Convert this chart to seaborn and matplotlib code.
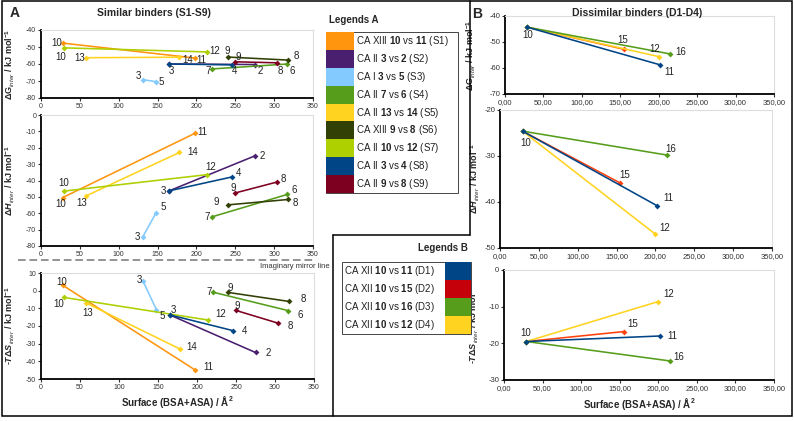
import matplotlib
matplotlib.use('Agg')
import matplotlib.pyplot as plt
import seaborn as sns
import pandas as pd
from matplotlib.lines import Line2D
from matplotlib.patches import Rectangle
from matplotlib.ticker import FuncFormatter, MultipleLocator

# panel A - similar binders
a_pairs = ['S1', 'S2', 'S3', 'S4', 'S5', 'S6', 'S7', 'S8', 'S9']
a_iso = ['CA XIII', 'CA II', 'CA I', 'CA II', 'CA II', 'CA XIII', 'CA II', 'CA II', 'CA II']
a_first = ['10', '3', '3', '7', '13', '9', '10', '3', '9']
a_second = ['11', '2', '5', '6', '14', '8', '12', '4', '8']
a_surf_first = [28, 165, 131, 220, 58, 240, 29, 165, 250]
a_surf_second = [198, 275, 148, 317, 178, 318, 214, 246, 304]
a_dg_first = [-47.7, -60.0, -69.2, -62.9, -56.3, -55.9, -50.5, -60.0, -58.7]
a_dg_second = [-56.5, -60.3, -70.4, -60.0, -56.0, -57.7, -52.9, -60.5, -59.3]
a_dh_first = [-50.4, -46.3, -74.4, -62.2, -49.4, -54.9, -46.5, -46.3, -47.6]
a_dh_second = [-11.2, -25.0, -59.8, -48.5, -22.9, -51.6, -36.4, -37.8, -40.9]
a_tds_first = [3.0, -13.7, 5.2, -0.8, -7.0, -1.0, -3.8, -13.7, -11.2]
a_tds_second = [-45.0, -35.0, -10.8, -11.3, -33.0, -6.1, -16.6, -22.6, -18.4]
a_colors = ['#ff950e', '#4b1f6f', '#83caff', '#579d1c', '#ffd320',
            '#314004', '#aecf00', '#004586', '#7e0021']

# panel B - dissimilar binders
b_pairs = ['D1', 'D2', 'D3', 'D4']
b_iso = ['CA XII', 'CA XII', 'CA XII', 'CA XII']
b_first = ['10', '10', '10', '10']
b_second = ['11', '15', '16', '12']
b_surf_first = [29, 29, 29, 29]
b_surf_second = [202, 155, 215, 200]
b_dg_first = [-44.3, -44.3, -44.3, -44.3]
b_dg_second = [-58.8, -52.8, -54.6, -55.6]
b_dh_first = [-24.6, -24.6, -24.6, -24.6]
b_dh_second = [-40.8, -35.9, -29.8, -47.0]
b_tds_first = [-19.5, -19.5, -19.5, -19.5]
b_tds_second = [-18.0, -16.8, -24.8, -8.6]
b_colors = ['#004586', '#ff420e', '#579d1c', '#ffd320']
b_swatch = ['#004586', '#c5000b', '#579d1c', '#ffd320']

# label offsets in pixels (dx, dy downward), None = no label
off_a = {
    'dG': [((-6, 0), (6, 2)), (None, (6, 6)), ((-4.5, -3.5), (5, 0)), ((-4, 2), (4.5, 7)),
           ((-6.5, 0), (8, 2.5)), ((0, -6), (8, -3.7)), ((-2.5, 9.5), (7.5, -1)),
           ((2.5, 7), (2, 6)), ((2.5, -4.5), (3, 8))],
    'dH': [((-2, 6), (7, -1.5)), (None, (7.5, 0)), ((-5.5, 0), (7, -5.5)), ((-5, 0), (7, -4)),
           ((-4, 7.5), (13, 0)), ((-11, -3), (7.5, 4)), ((0, -8), (3, -8)),
           ((-6, 0), (6, -3.5)), ((-2.5, -5), (6, -3))],
    'tds': [((-1, -3), (13, -3)), (None, (13, 0)), ((-4, -1), (6, 6)), ((-3, 0), (11.5, 4)),
            ((1.5, 10), (12, -2)), ((2.5, -4.5), (14, -2)), ((-4.5, 6.5), (13, -6)),
            ((4, -4.5), (12, 0)), ((1, -4.5), (12, 2.5))],
}
off_b = {
    'dG': [((0, 8), (9, 7)), (None, (-1, -9)), (None, (11, -1.5)), (None, (-4, -7.5))],
    'dH': [((3, 12), (11, -8)), (None, (4, -8)), (None, (3.5, -6)), (None, (9, -6))],
    'tds': [((-1, -9), (12, 0)), (None, (9, -7.5)), (None, (9, -4)), (None, (10.5, -7.5))],
}


def long_frame(pairs, first, second, sf, ss, g1, g2, h1, h2, t1, t2):
    rows = []
    for i, p in enumerate(pairs):
        rows.append(dict(pair=p, idx=i, end=0, cmpd=first[i], surface=sf[i], dG=g1[i], dH=h1[i], tds=t1[i]))
        rows.append(dict(pair=p, idx=i, end=1, cmpd=second[i], surface=ss[i], dG=g2[i], dH=h2[i], tds=t2[i]))
    return pd.DataFrame(rows)


df_a = long_frame(a_pairs, a_first, a_second, a_surf_first, a_surf_second,
                  a_dg_first, a_dg_second, a_dh_first, a_dh_second, a_tds_first, a_tds_second)
df_b = long_frame(b_pairs, b_first, b_second, b_surf_first, b_surf_second,
                  b_dg_first, b_dg_second, b_dh_first, b_dh_second, b_tds_first, b_tds_second)

sns.set_theme(style='white')
plt.rcParams['font.family'] = ['Liberation Sans', 'DejaVu Sans']
plt.rcParams['mathtext.fontset'] = 'custom'
plt.rcParams['mathtext.rm'] = 'Liberation Sans'
plt.rcParams['mathtext.it'] = 'Liberation Sans:italic'
plt.rcParams['mathtext.bf'] = 'Liberation Sans:bold'
plt.rcParams['mathtext.bfit'] = 'Liberation Sans:italic:bold'
plt.rcParams['axes.unicode_minus'] = False

W, H = 794, 421
fig = plt.figure(figsize=(W / 100, H / 100), dpi=100)


def add_ax(l, t, r, b):
    return fig.add_axes([l / W, 1 - b / H, (r - l) / W, (b - t) / H])


def draw(ax, df, col, pairs, colors, order, offsets, ylim, ylabel, ylab_x, comma=False):
    pal = dict(zip(pairs, colors))
    sns.lineplot(data=df, x='surface', y=col, hue='pair', hue_order=order, palette=pal,
                 estimator=None, sort=False, marker='D', markersize=3, markeredgewidth=0,
                 linewidth=1.15, legend=False, ax=ax)
    for _, r in df.iterrows():
        o = offsets[col][r['idx']][r['end']]
        if o is None:
            continue
        ax.annotate(r['cmpd'], (r['surface'], r[col]), xytext=(o[0], -o[1]),
                    textcoords='offset pixels', ha='center', va='center', fontsize=7, color='#222222')
    ax.set_xlim(0, 350)
    ax.set_ylim(*ylim)
    ax.xaxis.set_major_locator(MultipleLocator(50))
    ax.yaxis.set_major_locator(MultipleLocator(10))
    if comma:
        ax.xaxis.set_major_formatter(FuncFormatter(lambda v, p: f'{v:.2f}'.replace('.', ',')))
    for s in ['left', 'bottom']:
        ax.spines[s].set_color('black')
        ax.spines[s].set_linewidth(1.3)
    for s in ['top', 'right']:
        ax.spines[s].set_color('#dddddd')
        ax.spines[s].set_linewidth(0.8)
    ax.tick_params(labelsize=5.5 if comma else 5, length=2.5, width=0.8, pad=1,
                   left=True, bottom=True, colors='#333333')
    ax.set_xlabel('')
    ax.set_ylabel(ylabel, fontsize=6.5, fontweight='bold')
    ax.yaxis.set_label_coords(ylab_x, 0.5)


lab_g = 'ΔG$_{\\mathit{inter}}$ / kJ mol$^{\\mathbf{-1}}$'
lab_h = 'Δ$\\mathbfit{H}_{\\mathit{inter}}$ / kJ mol$^{\\mathbf{-1}}$'
lab_s = '-$\\mathbfit{T}$Δ$\\mathbfit{S}_{\\mathit{inter}}$ / kJ mol$^{\\mathbf{-1}}$'
xlab = 'Surface (BSA+ASA) / Å$^{\\mathbf{2}}$'

a_order = a_pairs
b_order = ['D2', 'D4', 'D3', 'D1']

ax1 = add_ax(41, 30, 313, 98)
draw(ax1, df_a, 'dG', a_pairs, a_colors, a_order, off_a, (-80, -40), lab_g, -0.088)
ax2 = add_ax(41, 115, 313, 246)
draw(ax2, df_a, 'dH', a_pairs, a_colors, a_order, off_a, (-80, 0), lab_h, -0.088)
ax3 = add_ax(41, 273, 314, 379)
draw(ax3, df_a, 'tds', a_pairs, a_colors, a_order, off_a, (-50, 10), lab_s, -0.088)
ax3.set_xlabel(xlab, fontsize=7, fontweight='bold', labelpad=2)

bx1 = add_ax(505, 16, 774, 94)
draw(bx1, df_b, 'dG', b_pairs, b_colors, b_order, off_b, (-70, -40), lab_g, -0.10, comma=True)
bx2 = add_ax(500, 110, 772, 248)
draw(bx2, df_b, 'dH', b_pairs, b_colors, b_order, off_b, (-50, -20), lab_h, -0.067, comma=True)
bx3 = add_ax(504, 270, 774, 380)
draw(bx3, df_b, 'tds', b_pairs, b_colors, b_order, off_b, (-30, 0), lab_s, -0.085, comma=True)
bx3.set_xlabel(xlab, fontsize=7, fontweight='bold', labelpad=3)

# titles
fig.text(10 / W, 1 - 13 / H, 'A', fontsize=10, fontweight='bold', ha='left', va='center')
fig.text(154 / W, 1 - 13 / H, 'Similar binders (S1-S9)', fontsize=7.5, fontweight='bold', ha='center', va='center')
fig.text(472 / W, 1 - 14 / H, 'B', fontsize=10, fontweight='bold', ha='left', va='center')
fig.text(637 / W, 1 - 13 / H, 'Dissimilar binders (D1-D4)', fontsize=7.5, fontweight='bold', ha='center', va='center')

# mirror line
fig.add_artist(Line2D([18 / W, 313 / W], [1 - 260 / H, 1 - 260 / H], color='#777777',
                      lw=1.1, ls=(0, (5, 2.5)), transform=fig.transFigure))
fig.text(330 / W, 1 - 267 / H, 'Imaginary mirror line', fontsize=5.5, ha='right', va='center', color='#333333')

# legend A
fig.text(329 / W, 1 - 20 / H, 'Legends A', fontsize=7, fontweight='bold', ha='left', va='center')
top, rh = 32, (193 - 32) / 9
fig.add_artist(Rectangle((326 / W, 1 - 193 / H), 132 / W, 161 / H, fill=False, ec='#444444', lw=0.7,
                         transform=fig.transFigure))
for i, p in enumerate(a_pairs):
    y0 = top + i * rh
    fig.add_artist(Rectangle((326 / W, 1 - (y0 + rh) / H), 28 / W, rh / H, fc=a_colors[i], ec='none',
                             transform=fig.transFigure))
    fig.text(356 / W, 1 - (y0 + rh / 2) / H,
             f'{a_iso[i]} $\\mathbf{{{a_first[i]}}}$ vs $\\mathbf{{{a_second[i]}}}$ ({p})',
             fontsize=7, ha='left', va='center', color='#222222')

# legend B
fig.text(468 / W, 1 - 248 / H, 'Legends B', fontsize=7, fontweight='bold', ha='right', va='center')
top, rh = 262, (334 - 262) / 4
fig.add_artist(Rectangle((342 / W, 1 - 334 / H), 129 / W, 72 / H, fill=False, ec='#444444', lw=0.7,
                         transform=fig.transFigure))
for i, p in enumerate(b_pairs):
    y0 = top + i * rh
    fig.add_artist(Rectangle((445 / W, 1 - (y0 + rh) / H), 26 / W, rh / H, fc=b_swatch[i], ec='none',
                             transform=fig.transFigure))
    fig.text(344 / W, 1 - (y0 + rh / 2) / H,
             f'{b_iso[i]} $\\mathbf{{{b_first[i]}}}$ vs $\\mathbf{{{b_second[i]}}}$ ({p})',
             fontsize=7, ha='left', va='center', color='#222222')

# frame and dividers
fig.add_artist(Rectangle((2 / W, 1 - 416 / H), 790 / W, 415 / H, fill=False, ec='black', lw=1.1,
                         transform=fig.transFigure))
for xs, ys in [([470, 470], [1, 235]), ([333, 470], [235, 235]), ([333, 333], [235, 416])]:
    fig.add_artist(Line2D([x / W for x in xs], [1 - y / H for y in ys], color='black', lw=1.1,
                          transform=fig.transFigure))

fig.savefig('out.png', dpi=100)
